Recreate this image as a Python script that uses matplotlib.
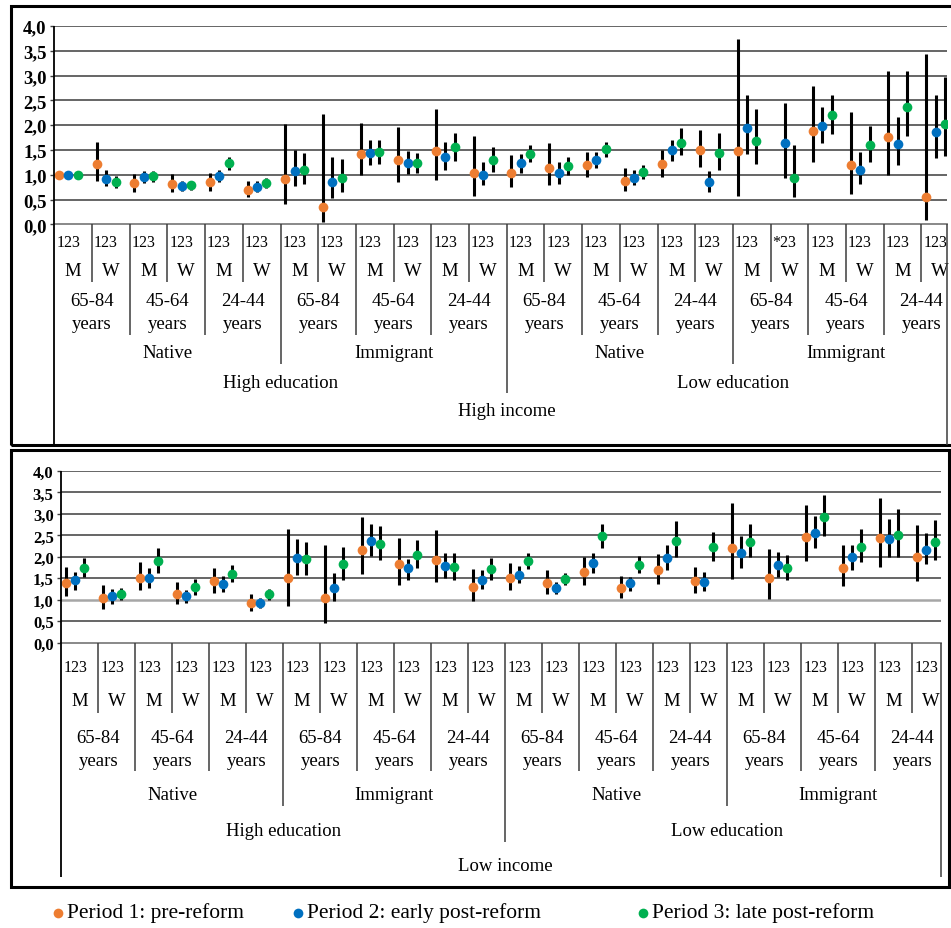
import numpy as np
import matplotlib
matplotlib.use("Agg")
import matplotlib.pyplot as plt
from matplotlib.lines import Line2D
from matplotlib.patches import Rectangle
import matplotlib.transforms as mtrans

plt.rcParams['font.family'] = ['Liberation Serif', 'DejaVu Serif']

W, H = 951, 929

# ---------------- data ----------------
period_labels = ["Period 1: pre-reform", "Period 2: early post-reform", "Period 3: late post-reform"]
period_colors = ["#ED7D31", "#0070C0", "#00B050"]

sex_labels = ["M", "W"] * 12
age_labels = ["65-84", "45-64", "24-44"] * 4
origin_labels = ["Native", "Immigrant"] * 2
edu_labels = ["High education", "Low education"]
income_labels = ["High income", "Low income"]
top_cat_labels = ["123"] * 19 + ["*23"] + ["123"] * 4
bottom_cat_labels = ["123"] * 24
yticks = [0.0, 0.5, 1.0, 1.5, 2.0, 2.5, 3.0, 3.5, 4.0]
ytick_labels = ["0,0", "0,5", "1,0", "1,5", "2,0", "2,5", "3,0", "3,5", "4,0"]

nan = np.nan
# High income panel
hi_p1 = [1.00, 1.21, 0.83, 0.82, 0.85, 0.70, 0.92, 0.34, 1.42, 1.30, 1.47, 1.03,
         1.04, 1.14, 1.19, 0.88, 1.21, 1.49, 1.47, nan, 1.88, 1.19, 1.76, 0.55]
hi_p1_lo = [1.00, 0.875, 0.66, 0.66, 0.68, 0.55, 0.40, 0.05, 1.00, 0.85, 0.90, 0.58,
            0.76, 0.79, 0.96, 0.68, 0.96, 1.15, 0.57, nan, 1.25, 0.61, 1.00, 0.08]
hi_p1_hi = [1.00, 1.66, 1.02, 1.02, 1.04, 0.87, 2.02, 2.22, 2.05, 1.97, 2.32, 1.78,
            1.40, 1.63, 1.45, 1.13, 1.49, 1.91, 3.74, nan, 2.78, 2.27, 3.10, 3.44]
hi_p2 = [1.00, 0.92, 0.95, 0.77, 0.98, 0.76, 1.08, 0.86, 1.43, 1.23, 1.35, 1.00,
         1.23, 1.03, 1.30, 0.94, 1.49, 0.85, 1.94, 1.64, 1.98, 1.10, 1.61, 1.87]
hi_p2_lo = [1.00, 0.77, 0.83, 0.67, 0.85, 0.66, 0.78, 0.53, 1.19, 1.02, 1.10, 0.79,
            1.04, 0.82, 1.14, 0.79, 1.27, 0.66, 1.42, 0.94, 1.64, 0.81, 1.19, 1.33]
hi_p2_hi = [1.00, 1.10, 1.07, 0.875, 1.10, 0.87, 1.49, 1.35, 1.70, 1.47, 1.66, 1.26,
            1.42, 1.25, 1.46, 1.09, 1.70, 1.08, 2.61, 2.45, 2.36, 1.46, 2.16, 2.60]
hi_p3 = [1.00, 0.855, 0.98, 0.79, 1.23, 0.84, 1.09, 0.93, 1.45, 1.23, 1.56, 1.29,
         1.41, 1.17, 1.52, 1.06, 1.65, 1.43, 1.69, 0.94, 2.20, 1.59, 2.36, 2.03]
hi_p3_lo = [1.00, 0.73, 0.855, 0.70, 1.09, 0.74, 0.82, 0.65, 1.22, 1.03, 1.28, 1.06,
            1.25, 1.00, 1.35, 0.92, 1.39, 1.10, 1.22, 0.55, 1.82, 1.25, 1.78, 1.37]
hi_p3_hi = [1.00, 0.98, 1.07, 0.87, 1.35, 0.94, 1.44, 1.31, 1.70, 1.44, 1.85, 1.56,
            1.60, 1.36, 1.67, 1.19, 1.94, 1.84, 2.32, 1.59, 2.60, 1.99, 3.10, 2.98]

# Low income panel
lo_p1 = [1.38, 1.04, 1.51, 1.13, 1.44, 0.93, 1.51, 1.04, 2.16, 1.83, 1.93, 1.30,
         1.51, 1.39, 1.65, 1.28, 1.69, 1.44, 2.20, 1.51, 2.47, 1.74, 2.44, 2.00]
lo_p1_lo = [1.09, 0.79, 1.22, 0.91, 1.16, 0.75, 0.86, 0.47, 1.59, 1.35, 1.41, 0.96,
            1.22, 1.13, 1.34, 1.05, 1.37, 1.16, 1.48, 1.02, 1.90, 1.31, 1.76, 1.44]
lo_p1_hi = [1.77, 1.34, 1.88, 1.41, 1.75, 1.13, 2.66, 2.28, 2.92, 2.45, 2.63, 1.72,
            1.86, 1.70, 2.00, 1.55, 2.06, 1.76, 3.25, 2.19, 3.21, 2.28, 3.36, 2.74]
lo_p2 = [1.45, 1.09, 1.50, 1.09, 1.36, 0.93, 1.97, 1.27, 2.38, 1.74, 1.79, 1.47,
         1.58, 1.27, 1.86, 1.38, 1.98, 1.42, 2.08, 1.81, 2.56, 1.99, 2.42, 2.17]
lo_p2_lo = [1.23, 0.91, 1.28, 0.92, 1.19, 0.82, 1.58, 0.98, 2.02, 1.47, 1.51, 1.25,
            1.39, 1.13, 1.63, 1.21, 1.69, 1.21, 1.74, 1.53, 2.20, 1.69, 2.00, 1.83]
lo_p2_hi = [1.65, 1.24, 1.75, 1.22, 1.55, 1.04, 2.41, 1.62, 2.77, 1.95, 2.10, 1.69,
            1.78, 1.42, 2.10, 1.54, 2.28, 1.64, 2.48, 2.11, 2.95, 2.28, 2.89, 2.55]
lo_p3 = [1.75, 1.13, 1.91, 1.30, 1.61, 1.13, 1.94, 1.83, 2.30, 2.05, 1.76, 1.71,
         1.90, 1.48, 2.49, 1.82, 2.38, 2.22, 2.35, 1.75, 2.92, 2.24, 2.52, 2.34]
lo_p3_lo = [1.53, 1.00, 1.62, 1.11, 1.41, 1.00, 1.58, 1.47, 1.93, 1.75, 1.46, 1.47,
            1.72, 1.34, 2.21, 1.62, 2.00, 1.90, 2.00, 1.47, 2.48, 1.88, 2.00, 1.93]
lo_p3_hi = [1.97, 1.28, 2.21, 1.48, 1.80, 1.25, 2.35, 2.22, 2.73, 2.39, 2.10, 1.97,
            2.10, 1.62, 2.77, 2.03, 2.83, 2.58, 2.76, 2.05, 3.43, 2.64, 3.12, 2.85]

# ---------------- figure ----------------
fig = plt.figure(figsize=(W / 100, H / 100), dpi=100)


def fx(x):
    return x / W


def fy(y):
    return 1 - y / H


def fig_line(x0, y0, x1, y1, color="black", lw=1.0):
    fig.add_artist(Line2D([fx(x0), fx(x1)], [fy(y0), fy(y1)], transform=fig.transFigure,
                          color=color, lw=lw, solid_capstyle="butt"))


def draw_panel(left, right, top, bottom, group_w, est, los, his, cat_labels,
               income_label, rows, seps, left_bottom, tick_fs, one_color):
    ax = fig.add_axes([fx(left), fy(bottom), (right - left) / W, (bottom - top) / H])
    ax.set_xlim(0, (right - left) / group_w)
    ax.set_ylim(0, 4.0)
    for s in ["top", "right", "left"]:
        ax.spines[s].set_visible(False)
    ax.spines["bottom"].set_color("#7f7f7f")
    ax.spines["bottom"].set_linewidth(1.3)
    ax.set_xticks([])
    ax.set_yticks(yticks)
    ax.set_yticklabels(ytick_labels, fontweight="bold", fontsize=tick_fs)
    ax.tick_params(axis="y", length=3.0, width=1.0, color="#404040", pad=2.5)
    for t in yticks[1:]:
        c = one_color if t == 1.0 else "#3c3c3c"
        lw = 1.8 if (t == 1.0 and one_color != "#3c3c3c") else 1.1
        ax.axhline(t, color=c, lw=lw, zorder=1)
    for p in range(3):
        x = np.arange(24) + (p + 0.5) / 4
        ax.vlines(x, np.array(los[p]), np.array(his[p]), color="black", lw=2.2, zorder=3)
        ax.plot(x, np.array(est[p]), "o", color=period_colors[p], ms=7.0, mew=0, zorder=4)
    ax.patch.set_alpha(0)
    # category table
    tr = mtrans.blended_transform_factory(ax.transData, fig.transFigure)
    r123, rmw, rage1, rage2, rorig, redu, rinc = rows
    smw, sage, sorig, sedu = seps
    axis_y = bottom
    for g in range(24):
        ax.text(g + 0.05, fy(r123), cat_labels[g], transform=tr, ha="left", va="center",
                fontsize=11.5)
        ax.text(g + 0.5, fy(rmw), sex_labels[g], transform=tr, ha="center", va="center",
                fontsize=13.5)
    for a in range(12):
        ax.text(2 * a + 1, fy(rage1), age_labels[a], transform=tr, ha="center", va="center",
                fontsize=13.5)
        ax.text(2 * a + 1, fy(rage2), "years", transform=tr, ha="center", va="center",
                fontsize=13.5)
    for o in range(4):
        ax.text(6 * o + 3, fy(rorig), origin_labels[o], transform=tr, ha="center",
                va="center", fontsize=13.5)
    for e in range(2):
        ax.text(12 * e + 6, fy(redu), edu_labels[e], transform=tr, ha="center",
                va="center", fontsize=13.5)
    ax.text(12, fy(rinc), income_label, transform=tr, ha="center", va="center", fontsize=13.5)
    for k in range(1, 24):
        if k % 12 == 0:
            yb = sedu
        elif k % 6 == 0:
            yb = sorig
        elif k % 2 == 0:
            yb = sage
        else:
            yb = smw
        fig_line(left + k * group_w, axis_y, left + k * group_w, yb, color="#3c3c3c", lw=1.1)
    fig_line(left, top, left, left_bottom, color="black", lw=1.3)
    fig_line(right, axis_y, right, left_bottom, color="#3c3c3c", lw=1.1)
    return ax


draw_panel(54.3, 947, 27, 225.3, 37.7,
           [hi_p1, hi_p2, hi_p3], [hi_p1_lo, hi_p2_lo, hi_p3_lo], [hi_p1_hi, hi_p2_hi, hi_p3_hi],
           top_cat_labels, income_labels[0],
           (243, 272, 302, 325, 353, 383, 412), (283.3, 336, 365, 394), 446,
           13.5, "#3c3c3c")

draw_panel(61.3, 941, 472, 643.7, 37.0,
           [lo_p1, lo_p2, lo_p3], [lo_p1_lo, lo_p2_lo, lo_p3_lo], [lo_p1_hi, lo_p2_hi, lo_p3_hi],
           bottom_cat_labels, income_labels[1],
           (668, 702, 739, 762, 796, 832, 867), (714, 772, 807, 843), 878,
           12.0, "#a6a6a6")

# frames
fig.add_artist(Rectangle((fx(11), fy(446)), fx(955) - fx(11), fy(7) - fy(446),
                         transform=fig.transFigure, fill=False, ec="black", lw=2.2))
fig.add_artist(Rectangle((fx(11), fy(888)), fx(949) - fx(11), fy(451) - fy(888),
                         transform=fig.transFigure, fill=False, ec="black", lw=2.2))

# legend
leg_dot_x = [58, 298, 643]
for i in range(3):
    fig.add_artist(Line2D([fx(leg_dot_x[i])], [fy(914)], transform=fig.transFigure,
                          marker="o", ms=7.0, mew=0, color=period_colors[i], lw=0))
    fig.text(fx(leg_dot_x[i] + 9), fy(913), period_labels[i], ha="left", va="center",
             fontsize=15.5)

fig.savefig("out.png", dpi=100)
